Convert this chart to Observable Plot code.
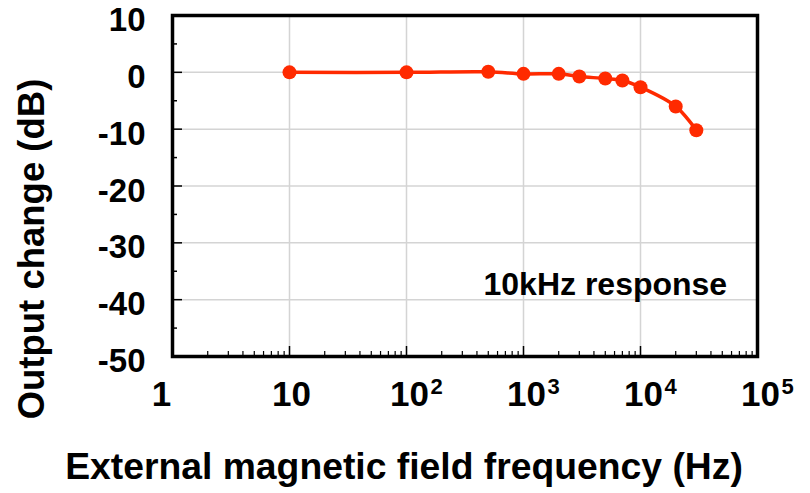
<!DOCTYPE html>
<html><head><meta charset="utf-8">
<script src="https://cdn.jsdelivr.net/npm/d3@7"></script>
<script src="https://cdn.jsdelivr.net/npm/@observablehq/plot@0.6"></script>
<style>body{margin:0;background:#fff}</style>
</head><body><div id="chart"></div>
<script>
// Data
const frequencies = [10, 100, 500, 1000, 2000, 3000, 5000, 7000, 10000, 20000, 30000];
const outputChange = [0, 0, 0.1, -0.27, -0.27, -0.74, -1.09, -1.44, -2.62, -6.0, -10.2];

// Axis ticks / labels
const xTickValues = [1, 10, 100, 1000, 10000, 100000];
const xTickBase = ["1", "10", "10", "10", "10", "10"];
const xTickExp = ["", "", "2", "3", "4", "5"];
const xGridValues = [10, 100, 1000, 10000];
const yTickValues = [10, 0, -10, -20, -30, -40, -50];
const yMinorValues = [5, -5, -15, -25, -35, -45];
const yGridValues = [0, -10, -20, -30, -40];
const annotation = "10kHz response";
const xLabel = "External magnetic field frequency (Hz)";
const yLabel = "Output change (dB)";

const data = frequencies.map((f, i) => ({f, v: outputChange[i]}));
const xMinorValues = [];
for (let d = 1; d < 100000; d *= 10) for (let m = 2; m <= 9; m++) xMinorValues.push(d * m);

const W = 810, H = 493, mL = 172, mR = 53, mT = 15, mB = 137;
const xDomain = [1, 1e5], yDomain = [-50, 10];
const decadePx = (W - mL - mR) / 5;
const unitPx = (H - mT - mB) / 60;
const xIn = px => Math.pow(10, px / decadePx);   // inward left tick end
const yIn = px => yDomain[0] + px / unitPx;       // inward bottom tick end

const font = "'Liberation Sans', Arial, Helvetica, sans-serif";
const red = "#ff2a00";
const bold = {fontWeight: "bold", fill: "black", lineAnchor: "middle"};

const chart = Plot.plot({
  width: W, height: H,
  marginLeft: mL, marginRight: mR, marginTop: mT, marginBottom: mB,
  x: {type: "log", domain: xDomain, axis: null},
  y: {domain: yDomain, axis: null},
  style: {fontFamily: font, background: "#fff"},
  marks: [
    Plot.ruleX(xGridValues, {x: d => d, stroke: "#d4d4d4", strokeWidth: 1.5}),
    Plot.ruleY(yGridValues, {y: d => d, stroke: "#d4d4d4", strokeWidth: 1.5}),
    // left ticks (inward)
    Plot.ruleY(yTickValues, {y: d => d, x1: 1, x2: xIn(10), stroke: "black", strokeWidth: 1.5}),
    Plot.ruleY(yMinorValues, {y: d => d, x1: 1, x2: xIn(5), stroke: "black", strokeWidth: 1.5}),
    // bottom ticks (inward)
    Plot.ruleX(xTickValues, {x: d => d, y1: -50, y2: yIn(10), stroke: "black", strokeWidth: 1.5}),
    Plot.ruleX(xMinorValues, {x: d => d, y1: -50, y2: yIn(5), stroke: "black", strokeWidth: 1.2}),
    Plot.frame({stroke: "black", strokeWidth: 3.5}),
    Plot.line(data, {x: "f", y: "v", stroke: red, strokeWidth: 3.5, curve: "catmull-rom"}),
    Plot.dot(data, {x: "f", y: "v", r: 7, fill: red}),
    // y tick labels
    Plot.text(yTickValues, {y: d => d, text: d => String(d), frameAnchor: "left", textAnchor: "end",
      dx: -27, dy: 5, fontSize: 33, ...bold}),
    // x tick labels: plain
    Plot.text(xTickValues.slice(0, 1), {x: d => d, text: (d, i) => xTickBase[i], frameAnchor: "bottom",
      textAnchor: "middle", dx: -11, dy: 38, fontSize: 35, ...bold}),
    Plot.text(xTickValues.slice(1, 2), {x: d => d, text: (d, i) => xTickBase[i + 1], frameAnchor: "bottom",
      textAnchor: "middle", dx: 2, dy: 38, fontSize: 35, ...bold}),
    // x tick labels: powers of ten
    Plot.text(xTickValues.slice(2), {x: d => d, text: (d, i) => xTickBase[i + 2], frameAnchor: "bottom",
      textAnchor: "end", dx: 22.5, dy: 38, fontSize: 35, ...bold}),
    Plot.text(xTickValues.slice(2), {x: d => d, text: (d, i) => xTickExp[i + 2], frameAnchor: "bottom",
      textAnchor: "start", dx: 24, dy: 30.5, fontSize: 22, ...bold}),
    // annotation
    Plot.text([annotation], {x: 455, y: -37.3, textAnchor: "start", fontSize: 32, ...bold}),
    // axis titles
    Plot.text([xLabel], {frameAnchor: "bottom", textAnchor: "middle", dx: -61, dy: 111, fontSize: 37.3, ...bold}),
    Plot.text([yLabel], {frameAnchor: "left", textAnchor: "middle", rotate: -90, dx: -140, dy: 63, fontSize: 36.5, ...bold})
  ]
});
document.getElementById("chart").appendChild(chart);
</script>
</body></html>
